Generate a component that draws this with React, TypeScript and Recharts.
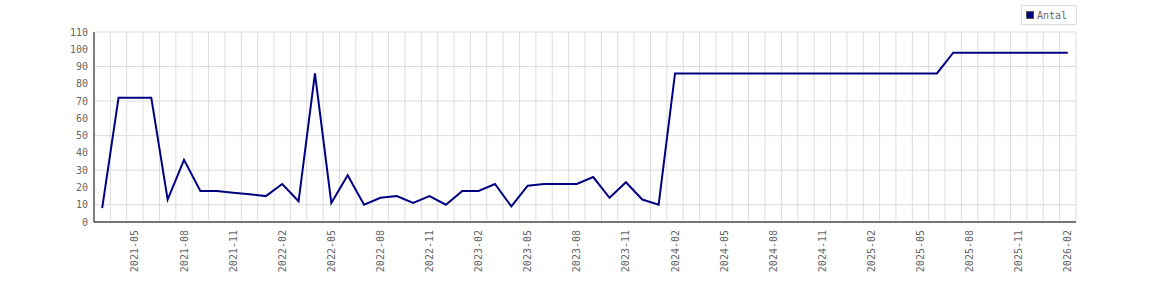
import React from "react";
import {
  LineChart,
  Line,
  XAxis,
  YAxis,
  CartesianGrid,
  Legend,
} from "recharts";

const months = [
  "2021-03", "2021-04", "2021-05", "2021-06", "2021-07", "2021-08", "2021-09", "2021-10", "2021-11", "2021-12",
  "2022-01", "2022-02", "2022-03", "2022-04", "2022-05", "2022-06", "2022-07", "2022-08", "2022-09", "2022-10",
  "2022-11", "2022-12", "2023-01", "2023-02", "2023-03", "2023-04", "2023-05", "2023-06", "2023-07", "2023-08",
  "2023-09", "2023-10", "2023-11", "2023-12", "2024-01", "2024-02", "2024-03", "2024-04", "2024-05", "2024-06",
  "2024-07", "2024-08", "2024-09", "2024-10", "2024-11", "2024-12", "2025-01", "2025-02", "2025-03", "2025-04",
  "2025-05", "2025-06", "2025-07", "2025-08", "2025-09", "2025-10", "2025-11", "2025-12", "2026-01", "2026-02",
];

const antal = [
  8, 72, 72, 72, 13, 36, 18, 18, 17, 16,
  15, 22, 12, 86, 11, 27, 10, 14, 15, 11,
  15, 10, 18, 18, 22, 9, 21, 22, 22, 22,
  26, 14, 23, 13, 10, 86, 86, 86, 86, 86,
  86, 86, 86, 86, 86, 86, 86, 86, 86, 86,
  86, 86, 98, 98, 98, 98, 98, 98, 98, 98,
];

const xTicks = [
  "2021-05", "2021-08", "2021-11", "2022-02", "2022-05", "2022-08", "2022-11",
  "2023-02", "2023-05", "2023-08", "2023-11", "2024-02", "2024-05", "2024-08",
  "2024-11", "2025-02", "2025-05", "2025-08", "2025-11", "2026-02",
];

const yTicks = [0, 10, 20, 30, 40, 50, 60, 70, 80, 90, 100, 110];

const data = months.map((m, i) => ({ month: m, Antal: antal[i] }));

const FONT = "'DejaVu Sans Mono', monospace";
const TEXT = "#666666";
const NAVY = "#000080";

const MonthTick = (props: any) => {
  const { x, y, payload } = props;
  return (
    <g transform={`translate(${x},${y})`}>
      <text
        x={0}
        y={0}
        dy="0.35em"
        transform="rotate(-90)"
        textAnchor="end"
        fill={TEXT}
        fontSize={10}
        fontFamily={FONT}
      >
        {payload.value}
      </text>
    </g>
  );
};

const LegendBox = () => (
  <div
    style={{
      display: "inline-flex",
      alignItems: "center",
      boxSizing: "border-box",
      height: 20,
      padding: "0 9px 0 4px",
      border: "1px solid #dddddd",
      background: "#fff",
      fontFamily: FONT,
      fontSize: 10,
      color: TEXT,
    }}
  >
    <span
      style={{
        display: "inline-block",
        width: 6,
        height: 6,
        background: NAVY,
        border: "1px solid #555",
        marginRight: 3,
      }}
    />
    Antal
  </div>
);

// gridlines sit between the monthly points, one per band edge
const bandEdges = (props: any) => {
  const off = props.offset || { left: 94, width: 982 };
  const n = months.length;
  return Array.from({ length: n }, (_, k) => off.left + ((k + 1) * off.width) / n);
};

export default function App() {
  return (
    <div style={{ position: "absolute", left: 0, top: 0 }}>
      <LineChart
        width={1170}
        height={300}
        data={data}
        margin={{ top: 12, right: 94, left: 0, bottom: 0 }}
      >
        <CartesianGrid
          stroke="#dddddd"
          verticalCoordinatesGenerator={bandEdges}
        />
        <XAxis
          dataKey="month"
          type="category"
          scale="band"
          ticks={xTicks}
          interval={0}
          height={78}
          tick={<MonthTick />}
          tickLine={false}
          tickSize={0}
          tickMargin={8}
          axisLine={{ stroke: "#000" }}
        />
        <YAxis
          domain={[0, 110]}
          ticks={yTicks}
          width={94}
          tickLine={false}
          tickSize={0}
          tickMargin={6}
          axisLine={{ stroke: "#000" }}
          tick={{ fill: TEXT, fontSize: 10, fontFamily: FONT }}
        />
        <Legend
          verticalAlign="top"
          align="right"
          height={20}
          wrapperStyle={{ top: 5, right: 93, left: "auto", width: "auto" }}
          content={<LegendBox />}
        />
        <Line
          type="linear"
          dataKey="Antal"
          stroke={NAVY}
          strokeWidth={2}
          dot={false}
          isAnimationActive={false}
        />
      </LineChart>
    </div>
  );
}
